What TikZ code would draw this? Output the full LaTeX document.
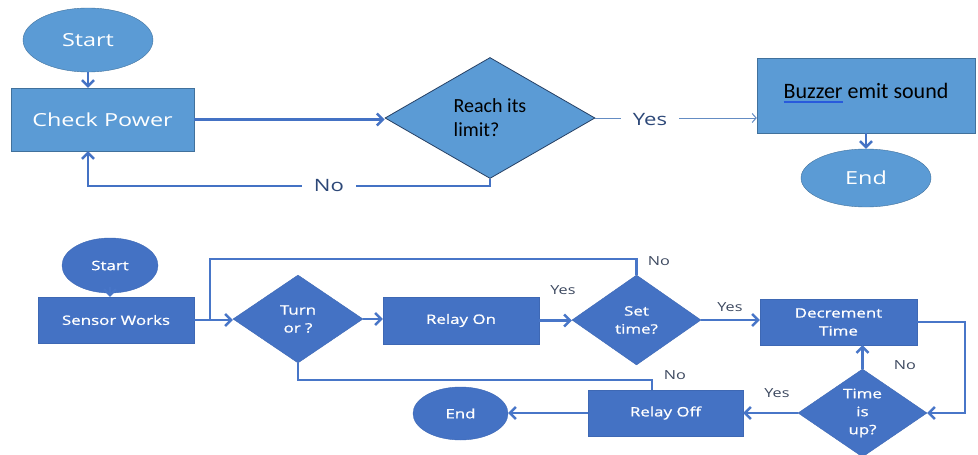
\documentclass[tikz,border=0pt]{standalone}
\usepackage{fontspec}
\usetikzlibrary{shapes.geometric,arrows.meta}
\newfontfamily\flowfont{Open Sans}[FakeStretch=1.3]
\newfontfamily\flowheavy{Open Sans}[FakeStretch=1.3,FakeBold=0.9]
\newfontfamily\calfont{Carlito}

\definecolor{topfill}{RGB}{91,155,213}
\definecolor{topedge}{RGB}{65,113,156}
\definecolor{limitedge}{RGB}{38,64,100}
\definecolor{topline}{RGB}{68,114,196}
\definecolor{thinline}{RGB}{100,140,195}
\definecolor{toplabel}{RGB}{45,72,120}
\definecolor{botfill}{RGB}{68,114,196}
\definecolor{botedge}{RGB}{62,104,180}
\definecolor{botline}{RGB}{72,118,200}
\definecolor{botlabel}{RGB}{60,72,95}
\definecolor{markblue}{RGB}{40,90,220}

\newsavebox{\markbox}
\newcommand{\spellmark}[1]{\sbox{\markbox}{#1}\rlap{\textcolor{markblue}{\rule[-5pt]{\wd\markbox}{2.5pt}}}\usebox{\markbox}}

\begin{document}
\begin{tikzpicture}[x=1pt,y=-1pt,>={Straight Barb[length=6pt,width=12pt]}]
\useasboundingbox (0,0) rectangle (978,455);

% power check
\begin{scope}[every node/.style={draw=topedge,fill=topfill,text=white,font=\flowfont\fontsize{18}{22}\selectfont}]
    \node (Start1)[ellipse,minimum width=130pt,minimum height=64pt] at (88,40) {Start};
    \node (Power)[minimum width=183pt,minimum height=63pt] at (102.5,119.5) {Check Power};
    \node (Limit)[diamond,draw=limitedge,thick,minimum width=210pt,minimum height=121pt,inner sep=0pt,
                  text=black,font=\calfont\fontsize{20}{24}\selectfont,align=left] at (490,118) {Reach its\\limit?};
    \node (Buzzer)[minimum width=218pt,minimum height=75pt,text height=16pt,text depth=11pt,
                   text=black,font=\calfont\fontsize{22}{26}\selectfont] at (866,95.5) {\spellmark{Buzzer} emit sound};
    \node (End1)[ellipse,minimum width=130pt,minimum height=58pt] at (866,178) {End};
\end{scope}

\begin{scope}[every edge/.style={draw=topline,line width=2.5pt,->}]
    \path (Start1.south) edge (Start1.south |- Power.north);
    \path (Power.east) edge (Power.east -| Limit.west);
    \path (Buzzer.south) edge (End1.north);
    \draw[topline,line width=2.5pt,->] (Limit.south) -- ++(0,7) -| (Start1 |- Power.south);
    \draw[thinline,line width=1pt,-{Straight Barb[length=4pt,width=9pt]}] (Limit.east) -- (Buzzer.west |- Limit.east);
\end{scope}

\begin{scope}[every node/.style={fill=white,text=toplabel,inner xsep=12pt,font=\flowfont\fontsize{17}{20}\selectfont}]
    \node (No1) at (329,186) {No};
    \node (Yes1) at (650,120) {Yes};
\end{scope}

% timer relay
\begin{scope}[every node/.style={draw=botedge,fill=botfill,text=white,align=center,font=\flowheavy\fontsize{13}{18}\selectfont}]
    \node (Start2)[ellipse,minimum width=96pt,minimum height=55pt] at (110,265.5) {Start};
    \node (Sensor)[minimum width=156pt,minimum height=46pt] at (116,320) {Sensor Works};
    \node (Turn)[diamond,minimum width=130pt,minimum height=88pt,inner sep=0pt] at (298,319) {Turn\\or ?};
    \node (RelayOn)[minimum width=156pt,minimum height=47pt] at (461,320.5) {Relay On};
    \node (SetTime)[diamond,minimum width=129pt,minimum height=90pt,inner sep=0pt] at (636.5,320) {Set\\time?};
    \node (Decr)[minimum width=157pt,minimum height=46pt] at (838.5,322) {Decrement\\Time};
    \node (TimeUp)[diamond,minimum width=129pt,minimum height=88pt,inner sep=0pt] at (862.5,413) {Time\\is\\up?};
    \node (RelayOff)[minimum width=155pt,minimum height=46pt] at (665.5,413) {Relay Off};
    \node (End2)[ellipse,minimum width=95pt,minimum height=53pt] at (460.5,413.5) {End};
\end{scope}

\coordinate (Join) at (210,320);
\coordinate (Loop) at (210,259);
\coordinate (Skip) at (652,380);

\begin{scope}[every edge/.style={draw=botline,line width=2.5pt,->}]
    \path (Start2.south) edge[shorten <=-6pt] (Start2.south |- Sensor.north);
    \path (Sensor.east) edge (Sensor.east -| Turn.west);
    \path (Turn.east) edge (Turn.east -| RelayOn.west);
    \path (RelayOn.east) edge (RelayOn.east -| SetTime.west);
    \path (SetTime.east) edge (SetTime.east -| Decr.west);
    \path (TimeUp.north) edge (TimeUp.north |- Decr.south);
    \path (TimeUp.west) edge (TimeUp.west -| RelayOff.east);
    \path (RelayOff.west) edge (RelayOff.west -| End2.east);
    \draw[botline,line width=2.5pt,->] (Decr.east) -- ++(48,0) |- (TimeUp.east);
    \draw[botline,line width=2.5pt] (SetTime.north) |- (Loop) -- (Join);
    \draw[botline,line width=2.5pt] (Turn.south) |- (Skip) -- (Skip |- RelayOff.north);
\end{scope}

\begin{scope}[every node/.style={text=botlabel,font=\flowfont\fontsize{12.5}{15}\selectfont}]
    \node (Yes2) at (563,290) {Yes};
    \node (No2) at (659,261) {No};
    \node (Yes3) at (730,307) {Yes};
    \node (No3) at (905,365) {No};
    \node (Yes4) at (777,393) {Yes};
    \node (No4) at (675,375) {No};
\end{scope}
\end{tikzpicture}
\end{document}
